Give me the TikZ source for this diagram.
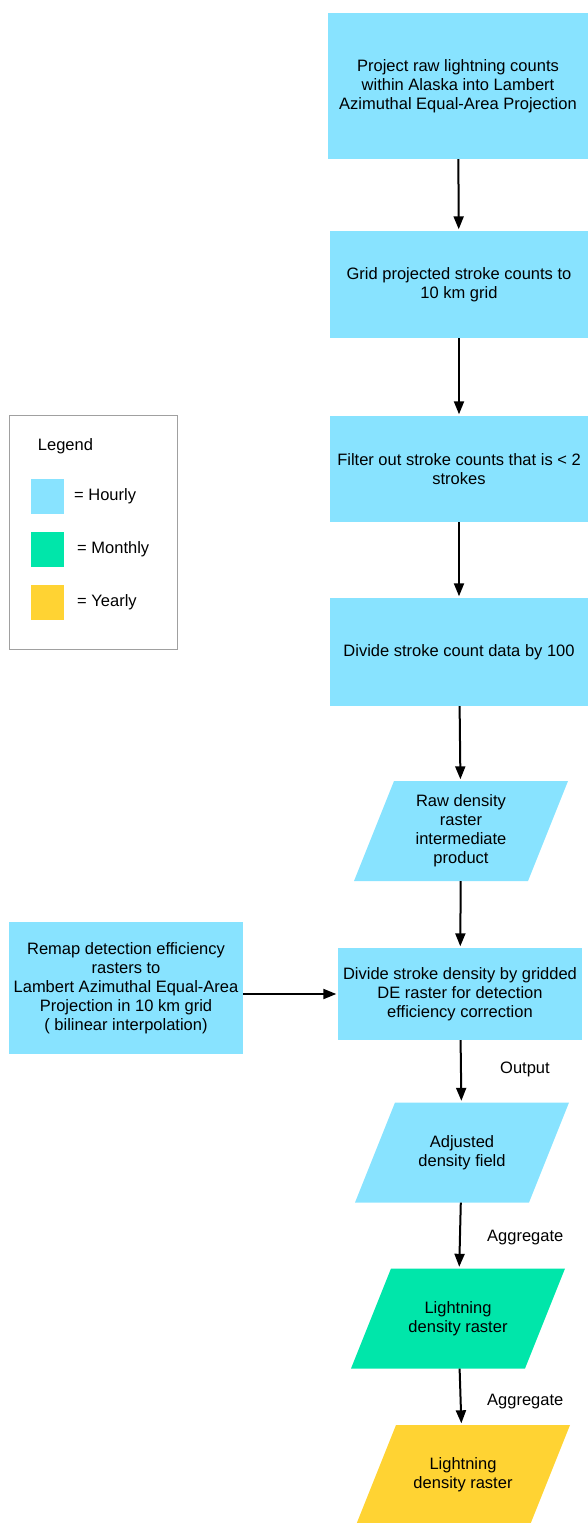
\documentclass[tikz,border=0pt]{standalone}
\usepackage{fontspec}
\setmainfont{Liberation Sans}
\usetikzlibrary{arrows.meta}
\definecolor{hourly}{RGB}{136,227,255}
\definecolor{monthly}{RGB}{0,230,170}
\definecolor{yearly}{RGB}{255,211,51}
\definecolor{legendgray}{RGB}{160,160,160}
\newcommand\parallelo[5]{%
  \fill[#4] (#2-67,#3-50) -- (#2+107,#3-50) -- (#2+67,#3+50) -- (#2-107,#3+50) -- cycle;
  \node[inner sep=0pt, minimum width=130pt, minimum height=100pt, align=center] (#1) at (#2,#3) {#5};}
\begin{document}
\begin{tikzpicture}[x=1pt,y=-1pt,
  font=\fontsize{16.5}{19}\selectfont,
  proc/.style={rectangle, fill=hourly, inner sep=0pt, align=center},
  arr/.style={-{Triangle[length=13pt,width=10pt]}, line width=2pt, shorten >=1.5pt},
  lbl/.style={inner sep=0pt, anchor=west},
  swatch/.style={rectangle, inner sep=0pt, minimum width=33pt, minimum height=35pt}]
\useasboundingbox (0,0) rectangle (588,1523);
% main column
\node[proc, minimum width=260pt, minimum height=146pt] (b1) at (458,86)
  {Project raw lightning counts\\within Alaska into Lambert\\Azimuthal Equal-Area Projection};
\node[proc, minimum width=258pt, minimum height=107pt] (b2) at (459,284.5)
  {Grid projected stroke counts to\\10 km grid};
\node[proc, minimum width=258pt, minimum height=106pt] (b3) at (459,469)
  {Filter out stroke counts that is < 2\\strokes};
\node[proc, minimum width=258pt, minimum height=108pt] (b4) at (459,652)
  {Divide stroke count data by 100};
\parallelo{p1}{461}{831}{hourly}{Raw density\\raster\\intermediate\\product}
\node[proc, minimum width=244pt, minimum height=92pt] (b5) at (460,994)
  {Divide stroke density by gridded\\DE raster for detection\\efficiency correction};
\node[proc, minimum width=234pt, minimum height=132pt] (rm) at (126,988)
  {Remap detection efficiency\\rasters to\\Lambert Azimuthal Equal-Area\\Projection in 10 km grid\\( bilinear interpolation)};
\parallelo{p2}{462}{1152.5}{hourly}{Adjusted\\density field}
\parallelo{p3}{458}{1318.5}{monthly}{Lightning\\density raster}
\parallelo{p4}{463}{1475}{yearly}{Lightning\\density raster}
% labels
\node[lbl] (out) at (500,1069) {Output};
\node[lbl] (ag1) at (487,1238) {Aggregate};
\node[lbl] (ag2) at (487,1402) {Aggregate};
% connectors
\draw[arr] (b1) -- (b2);
\draw[arr] (b2) -- (b3);
\draw[arr] (b3) -- (b4);
\draw[arr] (b4) -- (p1);
\draw[arr] (p1) -- (b5);
\draw[arr] (b5) -- (p2);
\draw[arr] (p2) -- (p3);
\draw[arr] (p3) -- (p4);
\draw[arr] (rm.east |- b5.west) -- (b5.west);
% legend
\node[draw=legendgray, line width=1pt, minimum width=168pt, minimum height=234pt, inner sep=0pt] (legend) at (93,532) {};
\node[inner sep=0pt] (legtitle) at (65.5,446) {Legend};
\node[swatch, fill=hourly] (sh) at (47.5,496.5) {};
\node[swatch, fill=monthly] (sm) at (47.5,549.5) {};
\node[swatch, fill=yearly] (sy) at (47.5,602.5) {};
\node[lbl] (lh) at (74,496) {= Hourly};
\node[lbl] (lm) at (77,549) {= Monthly};
\node[lbl] (ly) at (77,602) {= Yearly};
\end{tikzpicture}
\end{document}
